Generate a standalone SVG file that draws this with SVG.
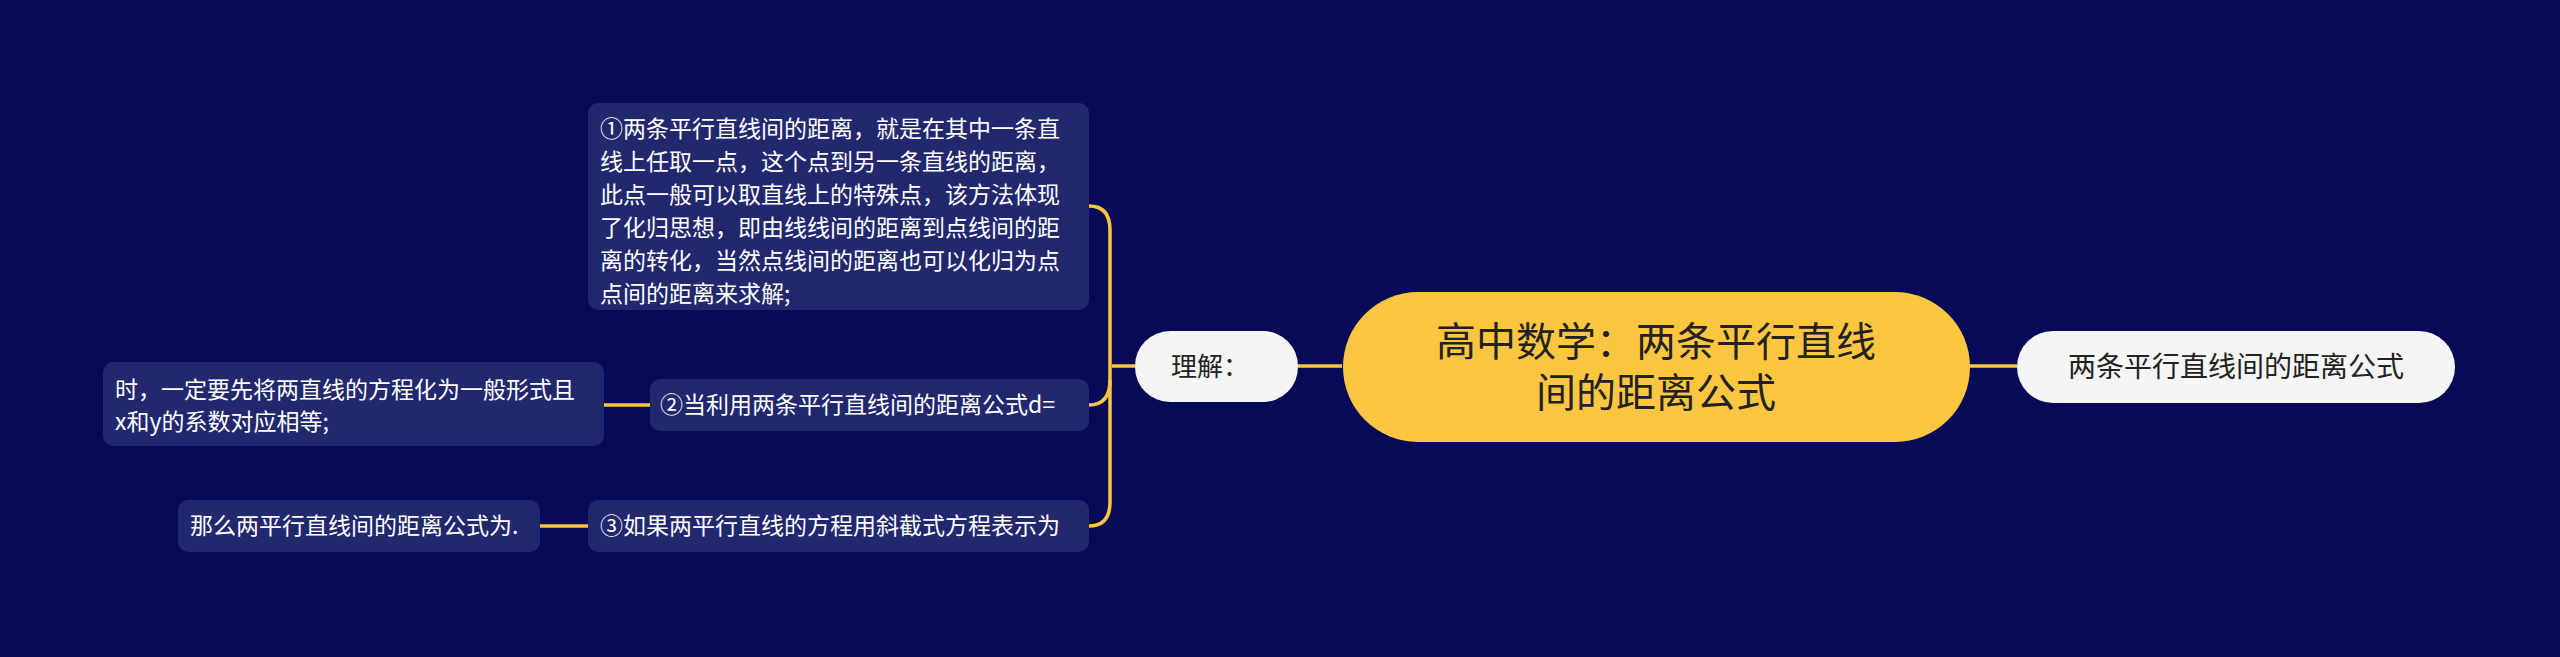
<svg xmlns="http://www.w3.org/2000/svg" width="2560" height="657" viewBox="0 0 2560 657">
<style>
text{font-family:"Noto Sans CJK SC","Liberation Sans",sans-serif}
.box{fill:#22286e}
.t{fill:#ffffff;font-size:23px}
.c{fill:none;stroke:#f9c640;stroke-width:3.5}
</style>
<rect width="2560" height="657" fill="#070b57"/>
<g id="connectors">
<path class="c" d="M1298 366 H1342"/>
<path class="c" d="M1969 366 H2017"/>
<path class="c" d="M1135 366 H1112"/>
<path class="c" d="M1089 206 Q1110 206 1110 230 V502 Q1110 526 1089 526"/>
<path class="c" d="M1089 405 Q1110 405 1110 380"/>
<path class="c" d="M604 405 H650"/>
<path class="c" d="M540 526 H588"/>
</g>
<g id="center">
<rect x="1343" y="292" width="627" height="150" rx="75" fill="#fdc640"/>
<text x="1656" y="356" font-size="40" fill="#222" text-anchor="middle">高中数学：两条平行直线</text>
<text x="1656" y="407" font-size="40" fill="#222" text-anchor="middle">间的距离公式</text>
</g>
<g id="right">
<rect x="2017" y="331" width="438" height="72" rx="36" fill="#f5f5f5"/>
<text x="2236" y="377" font-size="28" fill="#222" text-anchor="middle">两条平行直线间的距离公式</text>
</g>
<g id="lijie">
<rect x="1135" y="331" width="163" height="71" rx="35" fill="#f5f5f5"/>
<text x="1210" y="376" font-size="26" fill="#222" text-anchor="middle">理解：</text>
</g>
<g id="n1">
<rect class="box" x="588" y="103" width="501" height="207" rx="10"/>
<text class="t" x="600" y="137">①两条平行直线间的距离，就是在其中一条直</text>
<text class="t" x="600" y="170">线上任取一点，这个点到另一条直线的距离，</text>
<text class="t" x="600" y="203">此点一般可以取直线上的特殊点，该方法体现</text>
<text class="t" x="600" y="236">了化归思想，即由线线间的距离到点线间的距</text>
<text class="t" x="600" y="269">离的转化，当然点线间的距离也可以化归为点</text>
<text class="t" x="600" y="302">点间的距离来求解;</text>
</g>
<g id="n2">
<rect class="box" x="650" y="379" width="439" height="52" rx="10"/>
<text class="t" x="660" y="413">②当利用两条平行直线间的距离公式d=</text>
</g>
<g id="n2c">
<rect class="box" x="103" y="362" width="501" height="84" rx="10"/>
<text class="t" x="115" y="398">时，一定要先将两直线的方程化为一般形式且</text>
<text class="t" x="115" y="430">x和y的系数对应相等;</text>
</g>
<g id="n3">
<rect class="box" x="588" y="500" width="501" height="52" rx="10"/>
<text class="t" x="600" y="534">③如果两平行直线的方程用斜截式方程表示为</text>
</g>
<g id="n3c">
<rect class="box" x="178" y="500" width="362" height="52" rx="10"/>
<text class="t" x="190" y="534">那么两平行直线间的距离公式为.</text>
</g>
</svg>
